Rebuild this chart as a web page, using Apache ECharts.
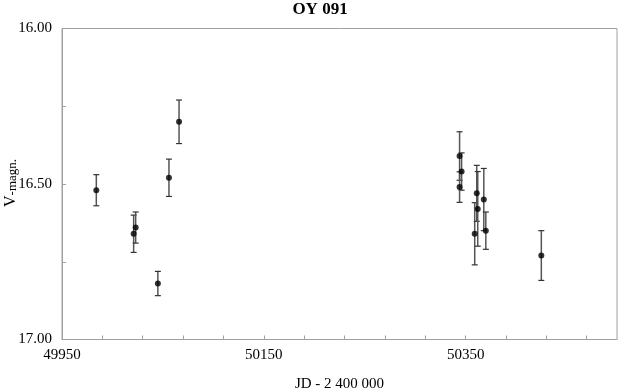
<!DOCTYPE html>
<html>
<head>
<meta charset="utf-8">
<script src="https://cdn.jsdelivr.net/npm/echarts@6/dist/echarts.min.js"></script>
<style>
  html, body { margin: 0; padding: 0; background: #fff; }
  #container { width: 619px; height: 392px; }
</style>
</head>
<body>
<div id="container"></div>
<script>
// JD - 2 400 000, V magnitude, error (+/-)
const jd = [49984, 50021, 50023, 50045, 50056, 50066,
            50344, 50346, 50344, 50359, 50361, 50362, 50368, 50370, 50425];
const vmag = [16.52, 16.66, 16.64, 16.82, 16.48, 16.30,
              16.41, 16.46, 16.51, 16.66, 16.53, 16.58, 16.55, 16.65, 16.73];
const verr = [0.050, 0.060, 0.050, 0.039, 0.060, 0.070,
              0.078, 0.060, 0.049, 0.100, 0.090, 0.120, 0.100, 0.060, 0.080];
const xLabels = [49950, 50150, 50350];
const yLabels = [16.00, 16.50, 17.00];

// x axis drawn relative to the first label so that ticks line up with it
const x0 = 49950;
const font = 'Liberation Serif';

let dom = document.getElementById('container');
let myChart = echarts.init(dom);

let points = jd.map(function (d, i) { return [d - x0, vmag[i]]; });
let bars = jd.map(function (d, i) { return [d - x0, vmag[i] - verr[i], vmag[i] + verr[i]]; });

let option = {
  animation: false,
  title: {
    text: 'OY 091',
    left: 320,
    textAlign: 'center',
    top: 1,
    padding: 0,
    textStyle: { fontFamily: font, fontSize: 17, fontWeight: 'bold', color: '#000' }
  },
  grid: {
    left: 62, right: 2, top: 28.5, bottom: 52.5,
    outerBoundsMode: 'none',
    containLabel: false,
    show: true, borderColor: '#a0a0a0', borderWidth: 1, backgroundColor: 'transparent'
  },
  // y axis title, rotated, with the smaller lowered "-magn."
  graphic: [{
    type: 'text',
    x: 11,
    y: 183,
    rotation: Math.PI / 2,
    style: {
      text: '{v|V}{m|-magn.}',
      align: 'center',
      verticalAlign: 'middle',
      rich: {
        v: { fontFamily: font, fontSize: 16, fill: '#000', verticalAlign: 'top' },
        m: { fontFamily: font, fontSize: 13, fill: '#000', verticalAlign: 'bottom' }
      }
    }
  }],
  xAxis: {
    type: 'value',
    min: 0,
    max: 550,
    interval: 40,
    splitLine: { show: false },
    axisLine: { lineStyle: { color: '#a0a0a0' } },
    axisTick: { inside: true, length: 4, lineStyle: { color: '#a0a0a0' } },
    axisLabel: {
      fontFamily: font, fontSize: 15, color: '#000', margin: 8,
      showMaxLabel: false,
      formatter: function (v) {
        let val = v + x0;
        return xLabels.indexOf(val) >= 0 ? String(val) : '';
      }
    },
    name: 'JD - 2 400 000',
    nameLocation: 'middle',
    nameGap: 37,
    nameTextStyle: { fontFamily: font, fontSize: 15, color: '#000' }
  },
  yAxis: {
    type: 'value',
    inverse: true,
    min: 16,
    max: 17,
    interval: 0.25,
    splitLine: { show: false },
    axisLine: { show: true, lineStyle: { color: '#a0a0a0' } },
    axisTick: { show: true, inside: true, length: 4, lineStyle: { color: '#a0a0a0' } },
    axisLabel: {
      fontFamily: font, fontSize: 15, color: '#000', margin: 10,
      formatter: function (v) {
        return yLabels.some(function (l) { return Math.abs(l - v) < 1e-6; }) ? v.toFixed(2) : '';
      }
    }
  },
  series: [
    {
      type: 'custom',
      data: bars,
      z: 1,
      renderItem: function (params, api) {
        let x = api.value(0);
        let lo = api.coord([x, api.value(1)]);
        let hi = api.coord([x, api.value(2)]);
        let w = 3;
        return {
          type: 'group',
          children: [
            { type: 'line', shape: { x1: lo[0], y1: lo[1], x2: hi[0], y2: hi[1] },
              style: { stroke: '#555', lineWidth: 1.5 } },
            { type: 'line', shape: { x1: lo[0] - w, y1: lo[1], x2: lo[0] + w, y2: lo[1] },
              style: { stroke: '#333', lineWidth: 1.2 } },
            { type: 'line', shape: { x1: hi[0] - w, y1: hi[1], x2: hi[0] + w, y2: hi[1] },
              style: { stroke: '#333', lineWidth: 1.2 } }
          ]
        };
      }
    },
    {
      type: 'scatter',
      data: points,
      z: 2,
      symbol: 'circle',
      symbolSize: 6,
      itemStyle: { color: '#000' }
    }
  ]
};

myChart.setOption(option);
</script>
</body>
</html>
